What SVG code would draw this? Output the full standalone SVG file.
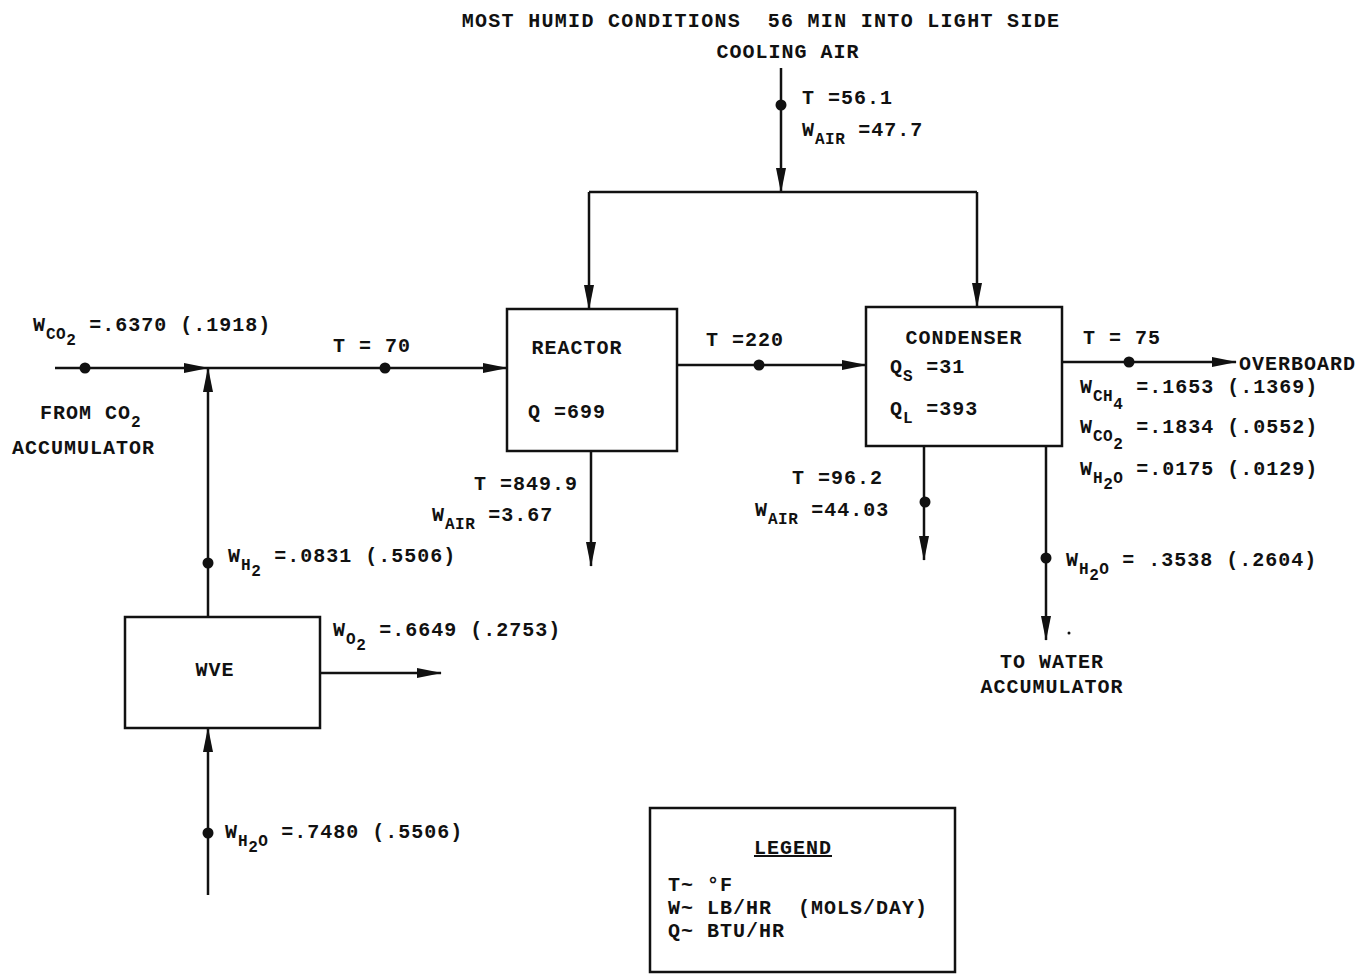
<svg xmlns="http://www.w3.org/2000/svg" width="1367" height="975" viewBox="0 0 1367 975">
<style>
text{font-family:"Liberation Mono","DejaVu Sans Mono",monospace;font-weight:bold;font-size:20px;fill:#111;letter-spacing:1px;white-space:pre}
.sub{font-size:16px;letter-spacing:0.5px}
.box{fill:none;stroke:#111;stroke-width:2.5}
.ln{fill:none;stroke:#111;stroke-width:2.5}
.ar{fill:none;stroke:#111;stroke-width:2.5;marker-end:url(#ah)}
.dot{fill:#111}
</style>
<defs>
<marker id="ah" markerUnits="userSpaceOnUse" markerWidth="26" markerHeight="12" refX="24" refY="5" orient="auto">
<path d="M0,0 L25,5 L0,10 z" fill="#111"/>
</marker>
</defs>
<rect width="1367" height="975" fill="#fff"/>
<text x="761" y="27" text-anchor="middle" style="letter-spacing:1.3px" xml:space="preserve">MOST HUMID CONDITIONS  56 MIN INTO LIGHT SIDE</text>
<text x="788" y="58" text-anchor="middle">COOLING AIR</text>

<g id="connectors">
<line class="ar" x1="781" y1="68" x2="781" y2="192"/>
<line class="ln" x1="589" y1="192" x2="977" y2="192"/>
<line class="ar" x1="589" y1="192" x2="589" y2="309"/>
<line class="ar" x1="977" y1="192" x2="977" y2="307"/>
<line class="ar" x1="55" y1="368" x2="208" y2="368"/>
<line class="ar" x1="208" y1="368" x2="507" y2="368"/>
<line class="ar" x1="208" y1="617" x2="208" y2="368"/>
<line class="ar" x1="208" y1="895" x2="208" y2="728"/>
<line class="ar" x1="320" y1="673" x2="441" y2="673"/>
<line class="ar" x1="677" y1="365" x2="866" y2="365"/>
<line class="ar" x1="591" y1="451" x2="591" y2="566"/>
<line class="ar" x1="924" y1="446" x2="924" y2="560"/>
<line class="ar" x1="1046" y1="446" x2="1046" y2="640"/>
<line class="ar" x1="1062" y1="362" x2="1236" y2="362"/>
<circle class="dot" cx="781" cy="105" r="5.5"/>
<circle class="dot" cx="85" cy="368" r="5.5"/>
<circle class="dot" cx="385" cy="368" r="5.5"/>
<circle class="dot" cx="208" cy="563" r="5.5"/>
<circle class="dot" cx="208" cy="833" r="5.5"/>
<circle class="dot" cx="759" cy="365" r="5.5"/>
<circle class="dot" cx="925" cy="502" r="5.5"/>
<circle class="dot" cx="1046" cy="558" r="5.5"/>
<circle class="dot" cx="1129" cy="362" r="5.5"/>
<circle class="dot" cx="1069" cy="633" r="1.5"/>
</g>

<g id="labels">
<text x="802" y="104">T =56.1</text>
<text x="802" y="136">W<tspan class="sub" dy="8">AIR</tspan><tspan dy="-8"> =47.7</tspan></text>
<text x="33" y="331">W<tspan class="sub" dy="8">CO</tspan><tspan class="sub" dy="6">2</tspan><tspan dy="-14"> =.6370 (.1918)</tspan></text>
<text x="333" y="352">T = 70</text>
<text x="40" y="419">FROM CO<tspan class="sub" dy="8">2</tspan></text>
<text x="12" y="454">ACCUMULATOR</text>
<text x="228" y="562">W<tspan class="sub" dy="8">H</tspan><tspan class="sub" dy="6">2</tspan><tspan dy="-14"> =.0831 (.5506)</tspan></text>
<text x="333" y="636">W<tspan class="sub" dy="8">O</tspan><tspan class="sub" dy="6">2</tspan><tspan dy="-14"> =.6649 (.2753)</tspan></text>
<text x="225" y="838">W<tspan class="sub" dy="8">H</tspan><tspan class="sub" dy="6">2</tspan><tspan class="sub" dy="-6">O</tspan><tspan dy="-8"> =.7480 (.5506)</tspan></text>
<text x="578" y="490" text-anchor="end">T =849.9</text>
<text x="432" y="521">W<tspan class="sub" dy="8">AIR</tspan><tspan dy="-8"> =3.67</tspan></text>
<text x="706" y="346">T =220</text>
<text x="792" y="484">T =96.2</text>
<text x="755" y="516">W<tspan class="sub" dy="8">AIR</tspan><tspan dy="-8"> =44.03</tspan></text>
<text x="1066" y="566">W<tspan class="sub" dy="8">H</tspan><tspan class="sub" dy="6">2</tspan><tspan class="sub" dy="-6">O</tspan><tspan dy="-8"> = .3538 (.2604)</tspan></text>
<text x="1052" y="668" text-anchor="middle">TO WATER</text>
<text x="1052" y="693" text-anchor="middle">ACCUMULATOR</text>
<text x="1083" y="344">T = 75</text>
<text x="1239" y="370">OVERBOARD</text>
<text x="1080" y="393">W<tspan class="sub" dy="8">CH</tspan><tspan class="sub" dy="8">4</tspan><tspan dy="-16"> =.1653 (.1369)</tspan></text>
<text x="1080" y="433">W<tspan class="sub" dy="8">CO</tspan><tspan class="sub" dy="8">2</tspan><tspan dy="-16"> =.1834 (.0552)</tspan></text>
<text x="1080" y="475">W<tspan class="sub" dy="8">H</tspan><tspan class="sub" dy="6">2</tspan><tspan class="sub" dy="-6">O</tspan><tspan dy="-8"> =.0175 (.0129)</tspan></text>
</g>

<g id="reactor">
<rect class="box" x="507" y="309" width="170" height="142"/>
<text x="577" y="354" text-anchor="middle">REACTOR</text>
<text x="528" y="418">Q =699</text>
</g>

<g id="condenser">
<rect class="box" x="866" y="307" width="196" height="139"/>
<text x="964" y="344" text-anchor="middle">CONDENSER</text>
<text x="890" y="373">Q<tspan class="sub" dy="8">S</tspan><tspan dy="-8"> =31</tspan></text>
<text x="890" y="415">Q<tspan class="sub" dy="8">L</tspan><tspan dy="-8"> =393</tspan></text>
</g>

<g id="wve">
<rect class="box" x="125" y="617" width="195" height="111"/>
<text x="215" y="676" text-anchor="middle">WVE</text>
</g>

<g id="legend">
<rect class="box" x="650" y="808" width="305" height="164"/>
<text x="793" y="854" text-anchor="middle" text-decoration="underline">LEGEND</text>
<text x="668" y="891">T~ °F</text>
<text x="668" y="914" xml:space="preserve">W~ LB/HR  (MOLS/DAY)</text>
<text x="668" y="937">Q~ BTU/HR</text>
</g>
</svg>
